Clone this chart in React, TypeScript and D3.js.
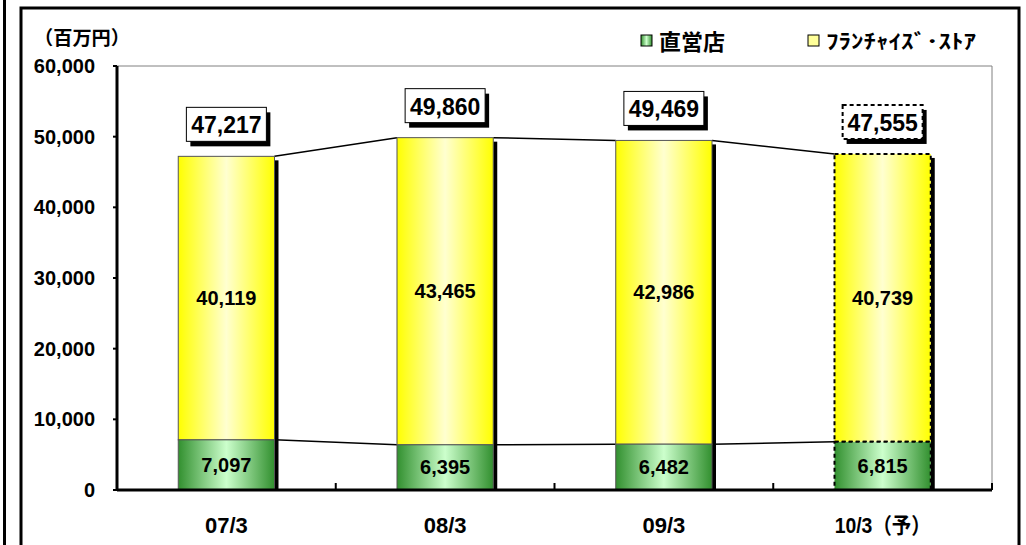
import React from "react";
import * as d3 from "d3";

const categories = ["07/3", "08/3", "09/3", "10/3（予）"];
const directStores = [7097, 6395, 6482, 6815];
const franchiseStores = [40119, 43465, 42986, 40739];
const totals = [47217, 49860, 49469, 47555];
const yTicks = [0, 10000, 20000, 30000, 40000, 50000, 60000];
const legendLabels = ["直営店", "ﾌﾗﾝﾁｬｲｽﾞ･ｽﾄｱ"];

const W = 1026;
const H = 545;
const plot = { left: 117, right: 992, top: 66, bottom: 490 };
const font = "'Liberation Sans', Arial, 'Noto Sans CJK JP', sans-serif";
const jpFont = "'Noto Sans CJK JP', 'Liberation Sans', sans-serif";

export default function App() {
  const x = d3
    .scaleBand<string>()
    .domain(categories)
    .range([plot.left, plot.right])
    .paddingInner(0.56)
    .paddingOuter(0.28);
  const y = d3.scaleLinear().domain([0, 60000]).range([plot.bottom, plot.top]);
  const fmt = d3.format(",");
  const bw = x.bandwidth();
  const band = x.step();

  const stack = categories.map((c, i) => ({
    c,
    i,
    x0: x(c)!,
    yDirectTop: y(directStores[i]),
    yTotalTop: y(directStores[i] + franchiseStores[i]),
  }));

  return (
    <svg
      width={W}
      height={H}
      style={{ position: "absolute", left: 0, top: 0, background: "#fff" }}
    >
      <defs>
        <linearGradient id="gY" x1="0" x2="1" y1="0" y2="0">
          <stop offset="0%" stopColor="#ffff00" />
          <stop offset="50%" stopColor="#ffffd0" />
          <stop offset="100%" stopColor="#ffff00" />
        </linearGradient>
        <linearGradient id="gG" x1="0" x2="1" y1="0" y2="0">
          <stop offset="0%" stopColor="#32902f" />
          <stop offset="50%" stopColor="#ccffcc" />
          <stop offset="100%" stopColor="#32902f" />
        </linearGradient>
      </defs>

      {/* slide frame */}
      <line x1={4.5} x2={4.5} y1={0} y2={H} stroke="#000" strokeWidth={3} />
      <rect x={21} y={8} width={998} height={H} fill="none" stroke="#000" strokeWidth={3} />

      {/* plot area border */}
      <line x1={plot.left} x2={plot.right} y1={plot.top} y2={plot.top} stroke="#808080" strokeWidth={1} />
      <line x1={plot.right} x2={plot.right} y1={plot.top} y2={plot.bottom} stroke="#808080" strokeWidth={1} />

      {/* series lines */}
      {stack.slice(0, -1).map((s, k) => {
        const n = stack[k + 1];
        return (
          <g key={"sl" + k} stroke="#000" strokeWidth={1.5}>
            <line x1={s.x0 + bw} x2={n.x0} y1={s.yTotalTop} y2={n.yTotalTop} />
            <line x1={s.x0 + bw} x2={n.x0} y1={s.yDirectTop} y2={n.yDirectTop} />
          </g>
        );
      })}

      {/* bars */}
      {stack.map((s) => {
        const dashed = s.i === categories.length - 1;
        const stroke = dashed ? "#000" : "#555";
        const dash = dashed ? "4 3" : undefined;
        const sw = dashed ? 2 : 1;
        return (
          <g key={s.c}>
            <rect x={s.x0 + bw} y={s.yTotalTop + 4} width={4} height={plot.bottom - s.yTotalTop - 4} fill="#000" />
            <rect
              x={s.x0}
              y={s.yTotalTop}
              width={bw}
              height={s.yDirectTop - s.yTotalTop}
              fill="url(#gY)"
              stroke={stroke}
              strokeWidth={sw}
              strokeDasharray={dash}
            />
            <rect
              x={s.x0}
              y={s.yDirectTop}
              width={bw}
              height={plot.bottom - s.yDirectTop}
              fill="url(#gG)"
              stroke={stroke}
              strokeWidth={sw}
              strokeDasharray={dash}
            />
            <text
              x={s.x0 + bw / 2}
              y={(s.yDirectTop + s.yTotalTop) / 2}
              textAnchor="middle"
              dominantBaseline="central"
              fontFamily={font}
              fontWeight="bold"
              fontSize={20}
            >
              {fmt(franchiseStores[s.i])}
            </text>
            <text
              x={s.x0 + bw / 2}
              y={(s.yDirectTop + plot.bottom) / 2}
              textAnchor="middle"
              dominantBaseline="central"
              fontFamily={font}
              fontWeight="bold"
              fontSize={20}
            >
              {fmt(directStores[s.i])}
            </text>
            {/* total box */}
            <g transform={`translate(${s.x0 + bw / 2},${s.yTotalTop - 32})`}>
              <rect x={-36} y={-12} width={80} height={34} fill="#000" />
              <rect
                x={-40}
                y={-17}
                width={80}
                height={34}
                fill="#fff"
                stroke="#000"
                strokeWidth={dashed ? 2 : 1}
                strokeDasharray={dash}
              />
              <text
                x={0}
                y={1}
                textAnchor="middle"
                dominantBaseline="central"
                fontFamily={font}
                fontWeight="bold"
                fontSize={23}
              >
                {fmt(totals[s.i])}
              </text>
            </g>
          </g>
        );
      })}

      {/* axes */}
      <line x1={plot.left} x2={plot.left} y1={plot.top} y2={plot.bottom} stroke="#000" strokeWidth={3} />
      <line x1={plot.left} x2={plot.right} y1={plot.bottom} y2={plot.bottom} stroke="#000" strokeWidth={3} />
      {yTicks.map((t) => (
        <g key={t}>
          <line x1={plot.left - 4} x2={plot.left} y1={y(t)} y2={y(t)} stroke="#000" strokeWidth={2} />
          <text
            x={95}
            y={y(t)}
            textAnchor="end"
            dominantBaseline="central"
            fontFamily={font}
            fontWeight="bold"
            fontSize={20}
          >
            {fmt(t)}
          </text>
        </g>
      ))}
      {categories.map((c, i) => (
        <line
          key={"xt" + c}
          x1={plot.left + band * (i + 1)}
          x2={plot.left + band * (i + 1)}
          y1={plot.bottom}
          y2={plot.bottom - 7}
          stroke="#000"
          strokeWidth={2}
        />
      ))}
      {categories.map((c) => {
        const proj = c.includes("予");
        return (
          <text
            key={"xl" + c}
            x={x(c)! + bw / 2}
            y={525}
            textAnchor="middle"
            dominantBaseline="central"
            fontFamily={font}
            fontWeight="bold"
            fontSize={22}
            textLength={proj ? 96 : undefined}
            lengthAdjust="spacingAndGlyphs"
          >
            {c}
          </text>
        );
      })}

      {/* unit */}
      <text
        x={34}
        y={36}
        fontFamily={jpFont}
        fontWeight="bold"
        fontSize={19}
        dominantBaseline="central"
        textLength={96}
        lengthAdjust="spacingAndGlyphs"
      >
        （百万円）
      </text>

      {/* legend */}
      <rect x={641} y={35} width={11} height={11} fill="url(#gG)" stroke="#000" strokeWidth={1} />
      <text x={659} y={40} fontFamily={jpFont} fontWeight="bold" fontSize={22} dominantBaseline="central">
        {legendLabels[0]}
      </text>
      <rect x={808} y={35} width={11} height={11} fill="#ffff99" stroke="#000" strokeWidth={1} />
      <text
        x={826}
        y={40}
        fontFamily={jpFont}
        fontWeight="bold"
        fontSize={20}
        dominantBaseline="central"
        textLength={150}
        lengthAdjust="spacingAndGlyphs"
      >
        {legendLabels[1]}
      </text>
    </svg>
  );
}
